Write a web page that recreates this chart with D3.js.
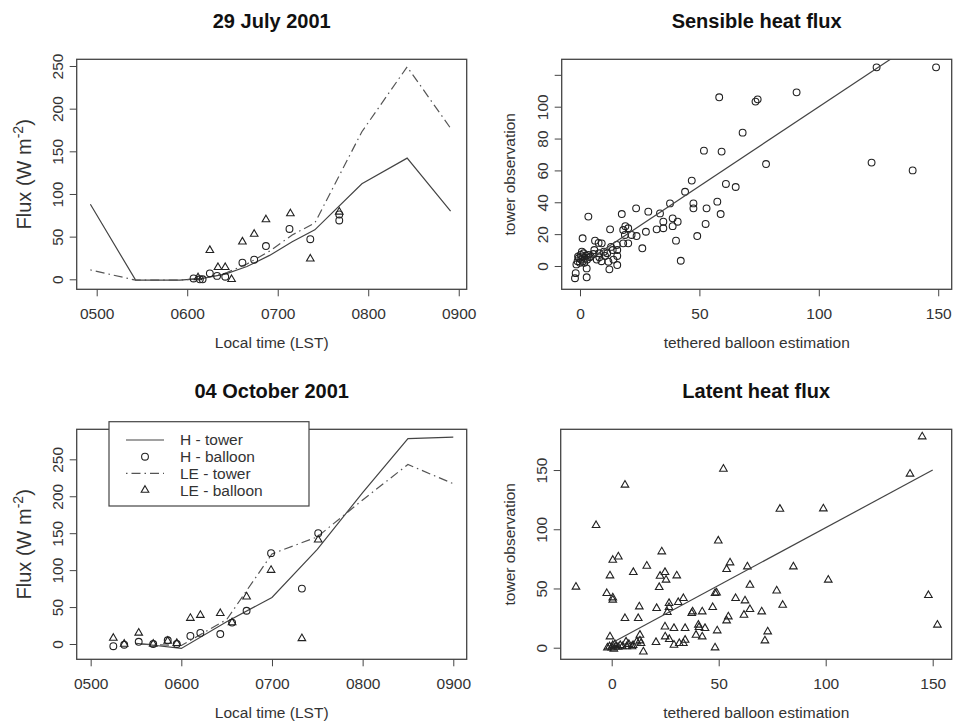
<!DOCTYPE html>
<html>
<head>
<meta charset="utf-8">
<script src="https://cdn.jsdelivr.net/npm/d3@7"></script>
<style>
  body { margin: 0; background: #fff; }
  text { font-family: "Liberation Sans", Arial, Helvetica, sans-serif; }
</style>
</head>
<body>
<script>
// ---- 29 July 2001: tower fluxes (W m-2) against local time (decimal hours)
const julyTowerTime = [4.93, 5.43, 5.92, 6.17, 6.42, 6.66, 6.91, 7.16, 7.41, 7.93, 8.43, 8.91];
const julyHTower    = [88, -1, -1, 1, 6, 15, 28, 44, 58, 112, 142, 80];
const julyLETower   = [11, -1, -1, 1, 7, 18, 33, 52, 66, 173, 249, 177];

// ---- 29 July 2001: tethered balloon estimates
const julyHBalloonTime  = [6.07, 6.14, 6.17, 6.25, 6.33, 6.42, 6.61, 6.74, 6.87, 7.13, 7.36, 7.68, 7.68];
const julyHBalloon      = [1, 0, 0, 7, 4, 3, 19.5, 23, 39, 59, 47, 69, 76];
const julyLEBalloonTime = [6.12, 6.25, 6.34, 6.42, 6.49, 6.61, 6.74, 6.87, 7.14, 7.36, 7.68];
const julyLEBalloon     = [2, 34, 14, 14, 0, 44, 53, 70, 77, 24, 79];

// ---- 04 October 2001: tower fluxes
const octTowerTime = [5.5, 6.0, 6.5, 7.0, 7.5, 8.0, 8.5, 9.0];
const octHTower    = [1, -6, 30, 63, 128, 205, 278, 280];
const octLETower   = [0, -2, 33, 122, 145, 195, 243, 217];

// ---- 04 October 2001: tethered balloon estimates
const octBalloonTime = [5.25, 5.37, 5.53, 5.69, 5.85, 5.95, 6.10, 6.21, 6.43, 6.56, 6.72, 6.99, 7.33, 7.51];
const octHBalloon    = [-3, -1, 3, 0, 5, 0, 11, 15, 13.5, 29, 45, 123, 75, 150];
const octLEBalloon   = [8, 0, 15, 0, 4, 1, 35, 39, 41.5, 29, 64, 100, 7.5, 141];

// ---- Sensible heat flux: balloon estimate (x) vs tower observation (y)
const sensibleBalloon = [-2.1, -1.8, 2.8, 2.8, -1.5, -1, -0.5, 0, 0.3, 0.5, 1, 1.2, 1.5, 2, 2.5, 3, 3.5, 4, 4.5, 0.8,
  -0.8, 1.8, 5.6, 8.1, 7, 10.5, 9, 11.9, 12.3, 11.4, 13.7, 15.4, 15.6, 15.6, 15.6, 1.1, 6.3, 7.8, 9.1, 3.5,
  12.6, 17.5, 18.1, 20.2, 21.6, 18.8, 20.2, 18.1, 19, 23.7, 26.1, 27.6, 23.5, 28.6, 33.5, 32.1, 34.9, 34.9, 38.8, 38.8,
  37.7, 40.2, 42.2, 40.9, 44, 46.8, 47.5, 47.5, 53, 57.5, 58.9, 52.6, 49.1, 51.9, 59.3, 61.1, 65.2, 68.1, 77.9, 58.3,
  74.4, 73.5, 90.7, 122.1, 139.3, 124.2, 149.1, 13, 10, 6, 14, 8];
const sensibleTower = [-7.7, -4.5, -7.1, -1.5, 1, 3, 5, 2, 7, 4, 6, 3, 8, 5, 6.5, 4, 7, 5.5, 6, 9,
  6, 2, 7.5, 5.5, 4, 6.3, 3, 2.7, -2.1, 8, 10, 13.2, 10, 6.3, 0.6, 17.4, 15.9, 14.5, 14.2, 31,
  23, 32.6, 22.6, 23.7, 19.5, 19.5, 14.2, 14.2, 25, 18.8, 11.1, 21.5, 36.2, 34.1, 33, 23, 27.8, 23.7, 29.9, 25,
  39.3, 15.9, 3.3, 27.8, 46.6, 53.6, 39.3, 36.2, 36.2, 40.4, 32.6, 26.4, 18.8, 72.4, 71.8, 51.5, 49.6, 83.7, 64, 105.9,
  104.6, 103.2, 109, 64.9, 60, 124.7, 124.7, 12, 9, 10, 4, 8];
const sensibleFitLine = [[0, 0.3], [150, 149.7]];

// ---- Latent heat flux: balloon estimate (x) vs tower observation (y)
const latentBalloon = [145.1, 139.4, 52.2, 6.2, -7.3, 78.6, 98.9, 49.8, 23.4, 3.1, 0.5, 16.4, 10.1, -0.8, 24.9, 25.4,
  22.6, 30.4, 22.2, 55.3, 53.7, 63.4, 84.9, 101.2, 64.6, -16.7, -2.3, 0.5, 0.5, 49, 48.3, 33.5, 31.1, 57.9, 62.3, 77.1,
  79.9, 148, 152.2, 72.9, 71.6, 70.1, 64.6, 61.8, 54.5, 53.7, 47.2, 49.3, 48.3, 42.3, 37.8, 37.4, 40.5, 40.8, 43.6,
  39.4, 42.3, 34.3, 29.1, 24.9, 26.8, 26.8, 26, 21, 12.9, 12.4, 6.2, 13.2, 13.2, 13.7, 14.8, 20.7, 26.9, 29.1, 31.6,
  34.3, 33.5, 25, -0.8, -2, -1, 0, 0.5, 1, 1.5, 2, 3, 4, 5, 6.7, 8, 9.5, 11.7, 10, 7];
const latentTower = [178.2, 146.7, 150.9, 137.4, 103.3, 117.1, 117.4, 90.3, 81.1, 76.8, 74, 69, 63.7, 60.8, 63.7, 57.2,
  60.5, 60.8, 51, 71.8, 66.2, 68.4, 68.4, 57.2, 52.9, 51.3, 45.9, 42.2, 40.3, 46.4, 46, 41.7, 38.3, 41.7, 39.7, 48.1,
  36, 44.2, 19.2, 13.5, 5.9, 30.4, 32.4, 27.6, 26.2, 22.8, 34.1, 14.4, 0, 30.4, 30.4, 29, 19.2, 17.2, 16.4,
  10.7, 9.3, 16.4, 16.4, 17.7, 37.5, 34.1, 29.9, 33.3, 34.6, 24.8, 24.8, 10.7, 5.9, 3.7, -3.4, 4.6, 7.1, 2.3, 3.7,
  6.5, 3.7, 9.3, 9.3, 0, 1, 0, 2, -1, 3, 1, 0.5, 2, 1, 5, 3, 1, 5, 2, 1];
const latentFitLine = [[0, 4], [150, 150]];

// ---- axis ticks and labels
const timeTicks = [5, 6, 7, 8, 9];
const timeTickLabels = ["0500", "0600", "0700", "0800", "0900"];
const fluxTicks = [0, 50, 100, 150, 200, 250];
const balloonTicks = [0, 50, 100, 150];
const sensibleTowerTicks = [0, 20, 40, 60, 80, 100, 120];
const latentTowerTicks = [0, 50, 100, 150];

const legendLabels = ["H - tower", "H - balloon", "LE - tower", "LE - balloon"];

// ------------------------------------------------------------------
const W = 953, H = 724;
const svg = d3.select("body").append("svg").attr("width", W).attr("height", H);

const INK = "#222";
const AXIS_TEXT = "#333";
const LINE_SOLID = "#444";
const LINE_DASH = "#555";
const DOTDASH = "1.5 4 9 4";
const TEXT_SIZE = 15.5;

const zip = (a, b) => a.map((v, i) => [v, b[i]]);

function trianglePath(r) {
  const h = r * 0.866;
  return `M0,${-r}L${h},${r / 2}L${-h},${r / 2}Z`;
}

function drawPanel(p) {
  const b = p.box;
  const x = d3.scaleLinear().domain(p.xLim).range([b.left, b.right]);
  const y = d3.scaleLinear().domain(p.yLim).range([b.bottom, b.top]);
  const g = svg.append("g");

  const clipId = "clip-" + p.id;
  svg.append("clipPath").attr("id", clipId).append("rect")
    .attr("x", b.left).attr("y", b.top)
    .attr("width", b.right - b.left).attr("height", b.bottom - b.top);

  const plot = g.append("g").attr("clip-path", `url(#${clipId})`);
  p.draw(plot, x, y);

  // x axis
  const xa = g.append("g").attr("transform", `translate(0,${b.bottom})`)
    .call(d3.axisBottom(x).tickValues(p.xTicks).tickFormat(p.xFormat).tickSize(7).tickSizeOuter(0));
  xa.select(".domain").remove();
  xa.selectAll("line").attr("stroke", "#444");
  xa.selectAll("text").attr("y", 30).attr("dy", null)
    .attr("font-size", TEXT_SIZE).attr("fill", AXIS_TEXT)
    .attr("font-family", "'Liberation Sans', Arial, sans-serif");

  // y axis with vertical labels
  const ya = g.append("g").attr("transform", `translate(${b.left},0)`)
    .call(d3.axisLeft(y).tickValues(p.yTicks).tickFormat(p.yFormat).tickSize(7).tickSizeOuter(0));
  ya.select(".domain").remove();
  ya.selectAll("line").attr("stroke", "#444");
  ya.selectAll("text").attr("x", 0).attr("dy", null)
    .attr("text-anchor", "middle")
    .attr("transform", "translate(-13.8,0) rotate(-90)")
    .attr("font-size", TEXT_SIZE).attr("fill", AXIS_TEXT)
    .attr("font-family", "'Liberation Sans', Arial, sans-serif");

  // frame
  g.append("rect")
    .attr("x", b.left).attr("y", b.top)
    .attr("width", b.right - b.left).attr("height", b.bottom - b.top)
    .attr("fill", "none").attr("stroke", "#444").attr("stroke-width", 1.3);

  const cx = (b.left + b.right) / 2;
  // title
  g.append("text").attr("x", cx).attr("y", b.top - 31)
    .attr("text-anchor", "middle").attr("font-size", 20).attr("font-weight", "bold")
    .attr("fill", "#111").text(p.title);
  // x label
  g.append("text").attr("x", cx).attr("y", b.bottom + 58.5)
    .attr("text-anchor", "middle").attr("font-size", TEXT_SIZE).attr("fill", AXIS_TEXT).text(p.xLabel);
  // y label
  const cy = (b.top + b.bottom) / 2;
  const yl = g.append("text")
    .attr("transform", `translate(${b.left + p.yLabelOffset},${cy}) rotate(-90)`)
    .attr("text-anchor", "middle").attr("font-size", p.yLabelSize).attr("fill", AXIS_TEXT);
  p.yLabel(yl);

  return { g, x, y };
}

function fluxLabel(t) {
  t.append("tspan").text("Flux (W m");
  t.append("tspan").attr("font-size", 14).attr("baseline-shift", "super").text("-2");
  t.append("tspan").text(")");
}
function towerLabel(t) { t.text("tower observation"); }

function drawCircles(sel, pts, x, y) {
  sel.selectAll(null).data(pts).enter().append("circle")
    .attr("cx", d => x(d[0])).attr("cy", d => y(d[1])).attr("r", 3.4)
    .attr("fill", "none").attr("stroke", INK).attr("stroke-width", 1.1);
}
function drawTriangles(sel, pts, x, y) {
  sel.selectAll(null).data(pts).enter().append("path")
    .attr("d", trianglePath(4.4))
    .attr("transform", d => `translate(${x(d[0])},${y(d[1])})`)
    .attr("fill", "none").attr("stroke", INK).attr("stroke-width", 1.1);
}
function drawLine(sel, pts, x, y, dash, color) {
  sel.append("path").datum(pts)
    .attr("d", d3.line().x(d => x(d[0])).y(d => y(d[1])))
    .attr("fill", "none").attr("stroke", color).attr("stroke-width", 1.2)
    .attr("stroke-dasharray", dash);
}

const timeFormat = d => timeTickLabels[timeTicks.indexOf(d)];

// ---- 29 July 2001
drawPanel({
  id: "jul",
  box: { left: 76.7, right: 466.7, top: 59.3, bottom: 289.3 },
  xLim: [4.779, 9.088], yLim: [-11.72, 257.85],
  xTicks: timeTicks, xFormat: timeFormat,
  yTicks: fluxTicks, yFormat: d3.format("d"),
  title: "29 July 2001", xLabel: "Local time (LST)",
  yLabel: fluxLabel, yLabelSize: 20, yLabelOffset: -46,
  draw: (s, x, y) => {
    drawLine(s, zip(julyTowerTime, julyHTower), x, y, null, LINE_SOLID);
    drawLine(s, zip(julyTowerTime, julyLETower), x, y, DOTDASH, LINE_DASH);
    drawCircles(s, zip(julyHBalloonTime, julyHBalloon), x, y);
    drawTriangles(s, zip(julyLEBalloonTime, julyLEBalloon), x, y);
  }
});

// ---- Sensible heat flux
drawPanel({
  id: "sens",
  box: { left: 561.7, right: 951.7, top: 59.3, bottom: 289.3 },
  xLim: [-7.66, 155.65], yLim: [-14.63, 129.75],
  xTicks: balloonTicks, xFormat: d3.format("d"),
  yTicks: sensibleTowerTicks, yFormat: d => (d > 100 ? "" : String(d)),
  title: "Sensible heat flux", xLabel: "tethered balloon estimation",
  yLabel: towerLabel, yLabelSize: TEXT_SIZE, yLabelOffset: -47,
  draw: (s, x, y) => {
    drawCircles(s, zip(sensibleBalloon, sensibleTower), x, y);
    drawLine(s, sensibleFitLine, x, y, null, LINE_SOLID);
  }
});

// ---- 04 October 2001
const oct = drawPanel({
  id: "oct",
  box: { left: 76.7, right: 466.7, top: 429.3, bottom: 659.3 },
  xLim: [4.846, 9.148], yLim: [-20.71, 290.65],
  xTicks: timeTicks, xFormat: timeFormat,
  yTicks: fluxTicks, yFormat: d3.format("d"),
  title: "04 October 2001", xLabel: "Local time (LST)",
  yLabel: fluxLabel, yLabelSize: 20, yLabelOffset: -46,
  draw: (s, x, y) => {
    drawLine(s, zip(octTowerTime, octHTower), x, y, null, LINE_SOLID);
    drawLine(s, zip(octTowerTime, octLETower), x, y, DOTDASH, LINE_DASH);
    drawCircles(s, zip(octBalloonTime, octHBalloon), x, y);
    drawTriangles(s, zip(octBalloonTime, octLEBalloon), x, y);
  }
});

// legend for the time-series panels
(function legend(g) {
  const lx = 109, ly = 421.7, lw = 200, lh = 84.3;
  const lg = g.append("g");
  lg.append("rect").attr("x", lx).attr("y", ly).attr("width", lw).attr("height", lh)
    .attr("fill", "#fff").attr("stroke", "#444").attr("stroke-width", 1.2);
  legendLabels.forEach((lab, i) => {
    const cy = 440 + i * 16.7;
    if (i === 0 || i === 2) {
      lg.append("line").attr("x1", 126).attr("x2", 164).attr("y1", cy).attr("y2", cy)
        .attr("stroke", i === 0 ? LINE_SOLID : LINE_DASH).attr("stroke-width", 1.2)
        .attr("stroke-dasharray", i === 0 ? null : DOTDASH);
    } else if (i === 1) {
      lg.append("circle").attr("cx", 145).attr("cy", cy).attr("r", 3.4)
        .attr("fill", "none").attr("stroke", INK).attr("stroke-width", 1.1);
    } else {
      lg.append("path").attr("d", trianglePath(4.4)).attr("transform", `translate(145,${cy})`)
        .attr("fill", "none").attr("stroke", INK).attr("stroke-width", 1.1);
    }
    lg.append("text").attr("x", 180).attr("y", cy + 5.4).attr("font-size", 15.5)
      .attr("fill", AXIS_TEXT).text(lab);
  });
})(oct.g);

// ---- Latent heat flux
drawPanel({
  id: "lat",
  box: { left: 560.7, right: 951.7, top: 429.3, bottom: 659.3 },
  xLim: [-23.83, 158.88], yLim: [-9.79, 184.4],
  xTicks: balloonTicks, xFormat: d3.format("d"),
  yTicks: latentTowerTicks, yFormat: d3.format("d"),
  title: "Latent heat flux", xLabel: "tethered balloon estimation",
  yLabel: towerLabel, yLabelSize: TEXT_SIZE, yLabelOffset: -46,
  draw: (s, x, y) => {
    drawTriangles(s, zip(latentBalloon, latentTower), x, y);
    drawLine(s, latentFitLine, x, y, null, LINE_SOLID);
  }
});
</script>
</body>
</html>
